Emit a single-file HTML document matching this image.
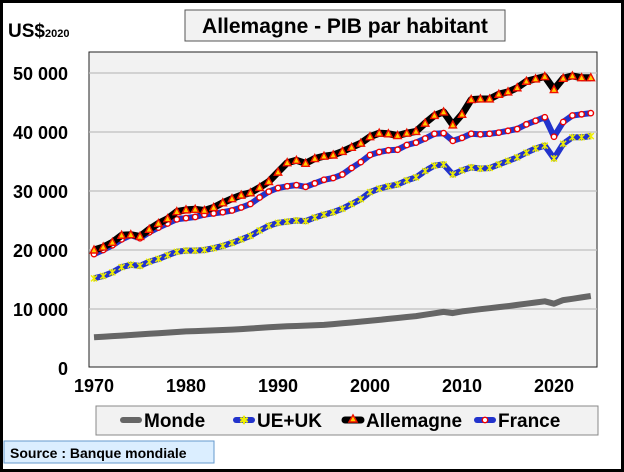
<!DOCTYPE html>
<html><head><meta charset="utf-8"><style>
body{margin:0;background:#fff}
svg{display:block;font-family:"Liberation Sans",sans-serif;font-weight:bold}
</style></head><body>
<svg id="s" width="624" height="472" xmlns="http://www.w3.org/2000/svg">
<rect x="1.5" y="1.5" width="621" height="469" fill="#fff" stroke="#000" stroke-width="3"/>
<rect x="89" y="52" width="508" height="315" fill="#f2f2f2" stroke="#222" stroke-width="1"/>
<g stroke="#c0c0c0" stroke-width="1.2">
<line x1="89" x2="597" y1="73" y2="73"/><line x1="89" x2="597" y1="132" y2="132"/><line x1="89" x2="597" y1="191" y2="191"/><line x1="89" x2="597" y1="250" y2="250"/><line x1="89" x2="597" y1="309" y2="309"/>
</g>
<rect x="185" y="10" width="320" height="31" fill="#f2f2f2" stroke="#555"/>
<text x="345" y="33" font-size="21" text-anchor="middle">Allemagne - PIB par habitant</text>
<text x="8" y="37" font-size="19">US$<tspan font-size="11">2020</tspan></text>
<g font-size="18" text-anchor="end">
<text x="68" y="80">50 000</text><text x="68" y="139">40 000</text><text x="68" y="198">30 000</text><text x="68" y="257">20 000</text><text x="68" y="316">10 000</text><text x="68" y="375">0</text>
</g>
<g font-size="18" text-anchor="middle">
<text x="94" y="392">1970</text><text x="186" y="392">1980</text><text x="278" y="392">1990</text><text x="370" y="392">2000</text><text x="462" y="392">2010</text><text x="554" y="392">2020</text>
</g>
<g id="series"></g>
<rect x="96" y="406" width="502" height="29" fill="#f2f2f2" stroke="#888"/>
<g font-size="19">
<line x1="123" x2="139" y1="420" y2="420" stroke="#666" stroke-width="6" stroke-linecap="round"/>
<text x="144" y="427">Monde</text>
<line x1="236" x2="252" y1="420" y2="420" stroke="#2233cc" stroke-width="6" stroke-linecap="round"/>
<text x="244" y="424" font-size="11" fill="#ee0" text-anchor="middle">✱</text>
<text x="257" y="427">UE+UK</text>
<line x1="345" x2="361" y1="420" y2="420" stroke="#000" stroke-width="7" stroke-linecap="round"/>
<polygon points="353,415 357,422 349,422" fill="#ffcc00" stroke="#ee1100" stroke-width="1.5"/>
<text x="366" y="427">Allemagne</text>
<line x1="477" x2="493" y1="420" y2="420" stroke="#2233cc" stroke-width="6" stroke-linecap="round"/>
<circle cx="485" cy="420" r="2.7" fill="#fff" stroke="#e00" stroke-width="1.4"/>
<text x="498" y="427">France</text>
</g>
<rect x="4" y="441" width="210" height="22" fill="#dbeeff" stroke="#6699cc"/>
<text x="10" y="458" font-size="14">Source : Banque mondiale</text>
</svg>
<script>
var de=[20,20.5,21.3,22.5,22.6,22.3,23.5,24.5,25.3,26.5,26.8,26.9,26.7,27.2,28,28.7,29.3,29.7,30.6,31.6,33.2,34.8,35.2,34.7,35.5,35.9,36.1,36.7,37.4,38.1,39.2,39.8,39.7,39.4,39.8,40.1,41.5,42.8,43.4,41.2,43,45.5,45.6,45.6,46.4,46.8,47.5,48.6,49,49.4,47.2,49.1,49.5,49.2,49.2];
var fr=[19.3,20,20.8,21.8,22.5,22,23,23.8,24.5,25.2,25.4,25.6,26,26.2,26.4,26.7,27.2,27.8,28.9,29.9,30.5,30.8,31,30.7,31.3,31.9,32.2,32.8,33.9,34.9,36.1,36.6,36.9,37,37.8,38.2,38.9,39.7,39.8,38.5,39,39.7,39.6,39.7,39.9,40.2,40.5,41.3,41.9,42.5,39.2,41.7,42.8,43,43.2];
var eu=[15.2,15.6,16.2,17.1,17.5,17.3,18,18.5,19.1,19.7,19.9,19.9,20,20.3,20.7,21.2,21.8,22.4,23.3,24.1,24.6,24.8,25,24.9,25.5,26,26.4,27,27.8,28.6,29.8,30.4,30.8,31.1,31.8,32.3,33.4,34.3,34.5,32.8,33.5,34,33.8,33.9,34.5,35.1,35.7,36.5,37.2,37.7,35.5,38,39.1,39.1,39.3];
var wk={1970:5.2,1975:5.7,1980:6.2,1985:6.5,1990:7.0,1995:7.3,2000:8.0,2005:8.8,2008:9.5,2009:9.3,2010:9.6,2015:10.5,2019:11.3,2020:10.9,2021:11.5,2024:12.2};
var ks=Object.keys(wk).map(Number),wo=[];
for(var y=1970;y<=2024;y++){for(var i=0;i<ks.length-1;i++){if(y>=ks[i]&&y<=ks[i+1]){wo.push(wk[ks[i]]+(wk[ks[i+1]]-wk[ks[i]])*(y-ks[i])/(ks[i+1]-ks[i]));break;}}}
function X(i){return 94+i*9.2}function Y(v){return 368-v*5.9}
function pts(a){return a.map(function(v,i){return X(i).toFixed(1)+","+Y(v).toFixed(1)}).join(" ")}
var h="";
h+='<polyline points="'+pts(wo)+'" fill="none" stroke="#666" stroke-width="6" stroke-linejoin="round"/>';
h+='<polyline points="'+pts(eu)+'" fill="none" stroke="#2233cc" stroke-width="6" stroke-linejoin="round"/>';
eu.forEach(function(v,i){var x=X(i),y=Y(v);h+='<path d="M'+(x-3)+','+(y-3)+'L'+(x+3)+','+(y+3)+'M'+(x+3)+','+(y-3)+'L'+(x-3)+','+(y+3)+'M'+x+','+(y-3.5)+'L'+x+','+(y+3.5)+'" stroke="#ee0" stroke-width="1.4"/>';});
h+='<polyline points="'+pts(fr)+'" fill="none" stroke="#2233cc" stroke-width="6" stroke-linejoin="round"/>';
fr.forEach(function(v,i){h+='<circle cx="'+X(i)+'" cy="'+Y(v)+'" r="2.7" fill="#fff" stroke="#e00" stroke-width="1.4"/>';});
h+='<polyline points="'+pts(de)+'" fill="none" stroke="#000" stroke-width="7" stroke-linejoin="round"/>';
de.forEach(function(v,i){var x=X(i),y=Y(v);h+='<polygon points="'+x+','+(y-4)+' '+(x+3.7)+','+(y+3)+' '+(x-3.7)+','+(y+3)+'" fill="#ffcc00" stroke="#ee1100" stroke-width="1.4"/>';});
document.getElementById("series").innerHTML=h;
</script>
</body></html>
